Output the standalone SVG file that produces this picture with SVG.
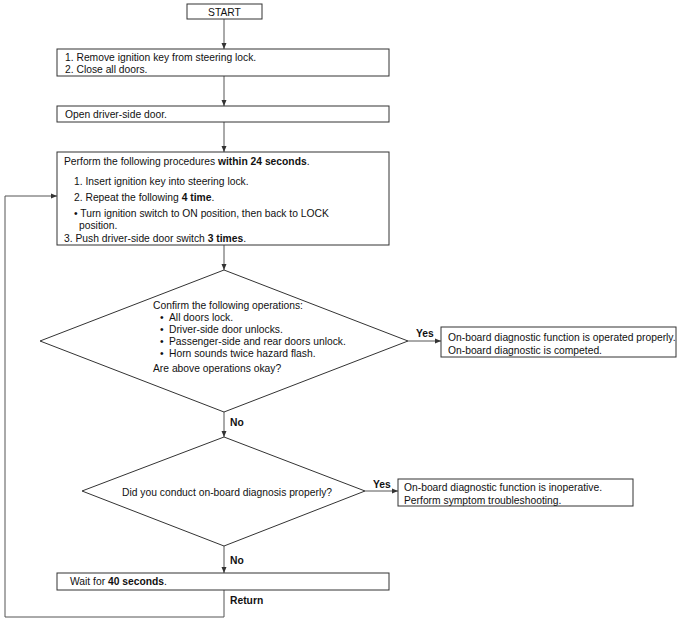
<svg xmlns="http://www.w3.org/2000/svg" width="679" height="620" viewBox="0 0 679 620">
<style>
.box{fill:#fff;stroke:#333;stroke-width:1}
.t{font-family:"Liberation Sans",Arial,sans-serif;font-size:10.3px;fill:#111}
.b{font-weight:bold}
.c{fill:none;stroke:#555;stroke-width:1}
</style>
<defs>
<marker id="ah" markerWidth="6" markerHeight="6" refX="6" refY="3" orient="auto" markerUnits="userSpaceOnUse">
<path d="M0,0.5 L6,3 L0,5.5 Z" fill="#333"/>
</marker>
</defs>
<rect width="679" height="620" fill="#fff"/>
<g id="connectors">
<line class="c" x1="224" y1="19" x2="224" y2="49" marker-end="url(#ah)"/>
<line class="c" x1="224" y1="76" x2="224" y2="106" marker-end="url(#ah)"/>
<line class="c" x1="224" y1="122" x2="224" y2="152" marker-end="url(#ah)"/>
<line class="c" x1="224" y1="245" x2="224" y2="270" marker-end="url(#ah)"/>
<line class="c" x1="408" y1="341" x2="441" y2="341" marker-end="url(#ah)"/>
<line class="c" x1="224" y1="412" x2="224" y2="437" marker-end="url(#ah)"/>
<line class="c" x1="365" y1="491" x2="398" y2="491" marker-end="url(#ah)"/>
<line class="c" x1="224" y1="546" x2="224" y2="573" marker-end="url(#ah)"/>
<polyline class="c" points="224,590 224,617 5,617 5,196 57,196" marker-end="url(#ah)"/>
<text class="t b" x="416" y="337">Yes</text>
<text class="t b" x="230" y="426">No</text>
<text class="t b" x="373" y="488">Yes</text>
<text class="t b" x="230" y="564">No</text>
<text class="t b" x="230" y="604">Return</text>
</g>
<g id="start">
<rect class="box" x="187" y="4" width="75" height="15"/>
<text class="t" x="224.5" y="15.5" text-anchor="middle">START</text>
</g>
<g id="step1">
<rect class="box" x="57" y="49" width="332" height="27"/>
<text class="t" x="65" y="60.5">1. Remove ignition key from steering lock.</text>
<text class="t" x="65" y="72.5">2. Close all doors.</text>
</g>
<g id="step2">
<rect class="box" x="57" y="106" width="332" height="16"/>
<text class="t" x="65" y="117.5">Open driver-side door.</text>
</g>
<g id="step3">
<rect class="box" x="57" y="152" width="332" height="93"/>
<text class="t" x="64" y="164.5">Perform the following procedures <tspan class="b">within 24 seconds</tspan>.</text>
<text class="t" x="74" y="184.5">1. Insert ignition key into steering lock.</text>
<text class="t" x="74" y="200.5">2. Repeat the following <tspan class="b">4 time</tspan>.</text>
<text class="t" x="74" y="216.5">• Turn ignition switch to ON position, then back to LOCK</text>
<text class="t" x="79" y="228.5">position.</text>
<text class="t" x="64" y="241.5">3. Push driver-side door switch <tspan class="b">3 times</tspan>.</text>
</g>
<g id="decision1">
<polygon class="box" points="224,270 408,341 224,412 40,341"/>
<text class="t" x="153" y="308.5">Confirm the following operations:</text>
<text class="t" x="160" y="320.5">•</text><text class="t" x="169" y="320.5">All doors lock.</text>
<text class="t" x="160" y="332.5">•</text><text class="t" x="169" y="332.5">Driver-side door unlocks.</text>
<text class="t" x="160" y="344.5">•</text><text class="t" x="169" y="344.5">Passenger-side and rear doors unlock.</text>
<text class="t" x="160" y="356.5">•</text><text class="t" x="169" y="356.5">Horn sounds twice hazard flash.</text>
<text class="t" x="153" y="371.5">Are above operations okay?</text>
</g>
<g id="result1">
<rect class="box" x="441" y="327" width="235" height="30"/>
<text class="t" x="448" y="340.5">On-board diagnostic function is operated properly.</text>
<text class="t" x="448" y="353.5">On-board diagnostic is competed.</text>
</g>
<g id="decision2">
<polygon class="box" points="224,437 365,491 224,546 82,491"/>
<text class="t" x="122" y="495.5">Did you conduct on-board diagnosis properly?</text>
</g>
<g id="result2">
<rect class="box" x="398" y="479" width="235" height="27"/>
<text class="t" x="404" y="490.5">On-board diagnostic function is inoperative.</text>
<text class="t" x="404" y="503.5">Perform symptom troubleshooting.</text>
</g>
<g id="wait">
<rect class="box" x="57" y="573" width="332" height="17"/>
<text class="t" x="70" y="585">Wait for <tspan class="b">40 seconds</tspan>.</text>
</g>
</svg>
